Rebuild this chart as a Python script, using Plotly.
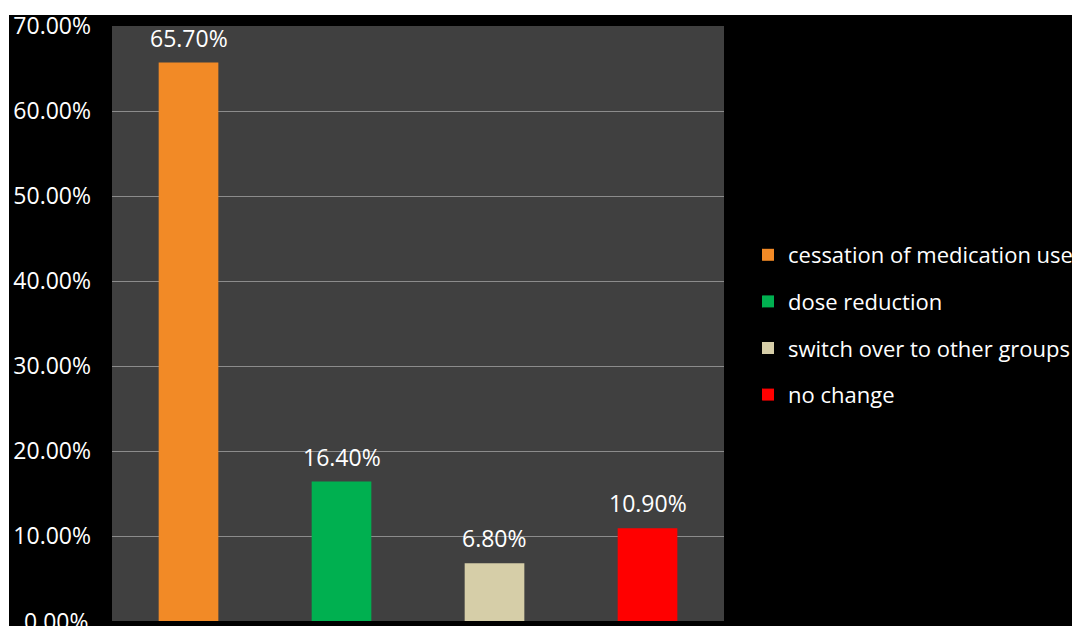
import plotly.graph_objects as go

categories = ["cessation of medication use", "dose reduction",
              "switch over to other groups", "no change"]
values = [0.657, 0.164, 0.068, 0.109]
labels = ["65.70%", "16.40%", "6.80%", "10.90%"]
colors = ["#F28A26", "#00B050", "#D6CEA8", "#FF0000"]
tick_vals = [0, 0.1, 0.2, 0.3, 0.4, 0.5, 0.6, 0.7]

W, H = 1072, 626
L, R, T, B = 112, 348, 26, 5
pw, ph = W - L - R, H - T - B

fig = go.Figure()
for i, (c, v, col) in enumerate(zip(categories, values, colors)):
    fig.add_trace(go.Bar(
        x=[c], y=[v], name=c,
        marker=dict(color=col, line=dict(width=0)),
        width=0.39, legendgroup=str(i),
    ))

for c, v, lab in zip(categories, values, labels):
    fig.add_annotation(x=c, y=v, text=lab, showarrow=False,
                       yanchor="bottom", yshift=7,
                       font=dict(color="white", size=23, family="Open Sans"))


def px_x(x):
    return (x - L) / pw


def px_y(y):
    return (H - B - y) / ph


# the 0.00% tick label is cut by the bottom edge in the reference
fig.add_annotation(x=px_x(91), xref="paper", y=tick_vals[0], yref="y",
                   text="0.00%", showarrow=False, xanchor="right",
                   yanchor="middle",
                   font=dict(color="white", size=23, family="Open Sans"))

fig.update_layout(
    width=W, height=H,
    margin=dict(l=L, r=R, t=T, b=B, autoexpand=False),
    paper_bgcolor="black", plot_bgcolor="#404040",
    barmode="overlay", showlegend=True,
    font=dict(family="Open Sans", color="white"),
    legend=dict(x=px_x(748), y=px_y(234), xanchor="left", yanchor="top",
                font=dict(size=22, color="white", family="Open Sans"),
                tracegroupgap=15, bgcolor="rgba(0,0,0,0)",
                traceorder="grouped"),
    xaxis=dict(categoryorder="array", categoryarray=categories,
               showticklabels=False, showgrid=False, zeroline=False,
               showline=False, range=[-0.5, 3.5]),
    yaxis=dict(range=[0, 0.7], tickvals=tick_vals[1:], tickformat=".2%",
               showgrid=True, gridcolor="#8C8C8C", gridwidth=1,
               zeroline=False, showline=False,
               tickfont=dict(size=23, color="white", family="Open Sans"),
               ticklabelstandoff=20),
    shapes=[
        dict(type="rect", xref="paper", yref="paper",
             x0=px_x(0), x1=px_x(W), y0=px_y(15), y1=px_y(0),
             fillcolor="white", line=dict(width=0), layer="below"),
        dict(type="rect", xref="paper", yref="paper",
             x0=px_x(0), x1=px_x(9), y0=px_y(H), y1=px_y(0),
             fillcolor="white", line=dict(width=0), layer="below"),
    ],
)

fig.write_html("out.html")
